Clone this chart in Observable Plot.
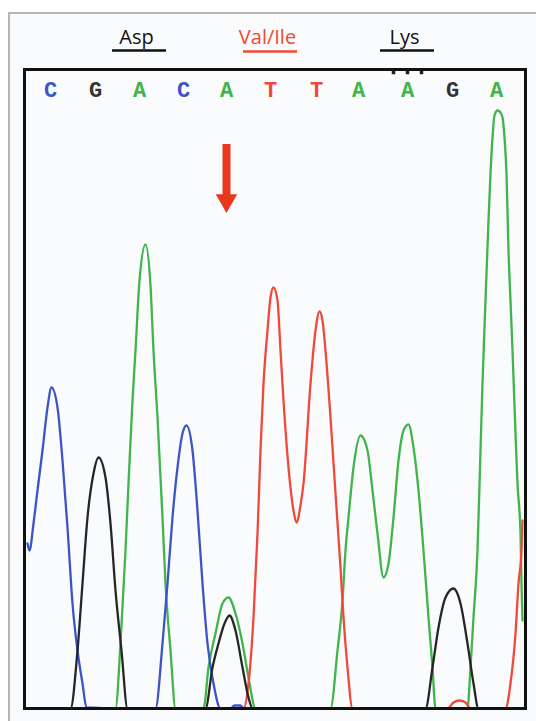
<!DOCTYPE html>
<html>
<head>
<meta charset="utf-8">
<script src="https://cdn.jsdelivr.net/npm/d3@7"></script>
<script src="https://cdn.jsdelivr.net/npm/@observablehq/plot@0.6"></script>
<style>
  html, body { margin: 0; padding: 0; background: #ffffff; }
  #wrap { position: relative; width: 536px; height: 721px; overflow: hidden; }
  #panel { position: absolute; left: 8px; top: 12px; right: -4px; bottom: -4px;
           border-left: 2px solid #b5b5b5; border-top: 2px solid #b5b5b5; background: #fafbfd; }
  #chart { position: absolute; left: 0; top: 0; }
</style>
</head>
<body>
<div id="wrap"><div id="panel"></div><div id="chart"></div></div>
<script>
// ---- Data (scan position, signal intensity) ----
const bases = ["C", "G", "A", "C", "A", "T", "T", "A", "A", "G", "A"];
const basePos = [26, 71, 115, 159, 202, 246, 292, 334, 383, 428, 472];
const codons = ["Asp", "Val/Ile", "Lys"];
const codonMidBase = [2, 5, 8];
const mutationBase = 4;

const traceC = [
  [3,165],[5,158],[9,185],[13,218],[18,258],[23,301],[27,321],[33,301],[38,248],[43,181],
  [48,105],[53,58],[58,25],[62,1],[96,0],[131,0],[138,65],[143,125],[148,191],[153,241],
  [158,275],[162,283],[168,258],[173,198],[178,125],[183,65],[189,25],[196,0],[206,0],
  [210,3],[216,3],[219,0],[498,0]
];
const traceG = [
  [0,0],[46,0],[53,58],[58,125],[63,191],[69,235],[74,251],[81,231],[86,185],[91,118],
  [97,58],[103,0],[181,0],[188,41],[194,65],[200,85],[205,93],[211,78],[218,41],[224,11],
  [228,0],[401,0],[408,41],[414,81],[421,111],[429,120],[436,105],[443,65],[449,25],
  [454,0],[498,0]
];
const traceA = [
  [0,0],[91,0],[96,65],[101,158],[104,225],[108,308],[111,358],[115,428],[121,464],
  [126,423],[129,358],[133,291],[138,191],[141,125],[146,58],[151,0],[179,0],[184,41],
  [191,75],[198,105],[204,111],[211,95],[218,65],[224,31],[231,0],[306,0],[313,58],
  [318,108],[321,158],[324,191],[329,241],[336,273],[343,258],[348,218],[353,175],
  [359,131],[364,145],[369,191],[374,248],[379,278],[384,284],[389,261],[394,218],
  [399,158],[404,91],[408,41],[411,0],[443,0],[446,41],[449,91],[453,158],[456,258],
  [458,325],[461,408],[464,488],[466,535],[468,571],[470,593],[473,598],[476,596],
  [478,591],[480,571],[482,535],[484,458],[486,408],[488,358],[491,275],[493,225],
  [496,175],[497,125],[498,88]
];
const traceT = [
  [0,0],[219,0],[224,25],[229,91],[233,175],[236,258],[239,325],[243,378],[246,411],
  [249,421],[253,408],[256,358],[259,308],[264,241],[269,198],[272,186],[276,203],
  [279,225],[286,325],[291,378],[295,397],[298,388],[301,358],[306,291],[311,215],
  [316,141],[319,91],[323,41],[328,0],[423,0],[429,6],[435,8],[441,6],[446,0],[481,0],
  [486,25],[491,75],[494,125],[497,158],[498,188]
];

const baseColor = { A: "#3fb54a", C: "#3b55c6", G: "#333333", T: "#f0483a" };
const traces = [
  { data: traceA, color: baseColor.A },
  { data: traceT, color: baseColor.T },
  { data: traceC, color: baseColor.C },
  { data: traceG, color: "#262626" }
];

const yLetters = 619, yCodon = 671, yUnder = 658;
const codonRows = codons.map((c, i) => ({ label: c, x: basePos[codonMidBase[i]], mut: i === 1 }));

const chart = Plot.plot({
  width: 536,
  height: 721,
  marginLeft: 24,
  marginRight: 11,
  marginTop: 69,
  marginBottom: 13,
  x: { domain: [0, 501], axis: null },
  y: { domain: [0, 639], axis: null },
  color: { type: "identity" },
  style: { background: "transparent", overflow: "visible" },
  marks: [
    ...traces.map(t => Plot.line(t.data, {
      x: d => d[0], y: d => d[1], stroke: t.color, strokeWidth: 2.3, curve: "monotone-x"
    })),
    Plot.frame({ stroke: "#111111", strokeWidth: 3 }),
    Plot.text(bases, {
      x: (d, i) => basePos[i], y: yLetters, text: d => d, fill: d => baseColor[d],
      fontFamily: "Liberation Mono", fontSize: 22, fontWeight: "bold"
    }),
    Plot.text(codonRows, {
      x: "x", y: yCodon, dx: -3, text: "label", fill: d => d.mut ? "#ee4a2e" : "#111111",
      fontFamily: "Open Sans", fontSize: 20
    }),
    Plot.ruleY(codonRows, {
      y: d => d.mut ? yUnder - 1 : yUnder, x1: d => d.x - 27, x2: d => d.x + 27,
      stroke: d => d.mut ? "#ee4a2e" : "#111111", strokeWidth: 2.5
    }),
    Plot.dot([-14, 0, 14], {
      x: d => basePos[codonMidBase[2]] + d, y: 636, symbol: "square", r: 2, fill: "#222", stroke: "none"
    }),
    Plot.ruleX([mutationBase], {
      x: d => basePos[d], y1: 564, y2: 512, stroke: "#e8391e", strokeWidth: 8
    }),
    Plot.dot([mutationBase], {
      x: d => basePos[d], y: 508, symbol: "triangle", rotate: 180, r: 8, fill: "#e8391e", stroke: "none"
    })
  ]
});
document.getElementById("chart").appendChild(chart);
</script>
</body>
</html>
